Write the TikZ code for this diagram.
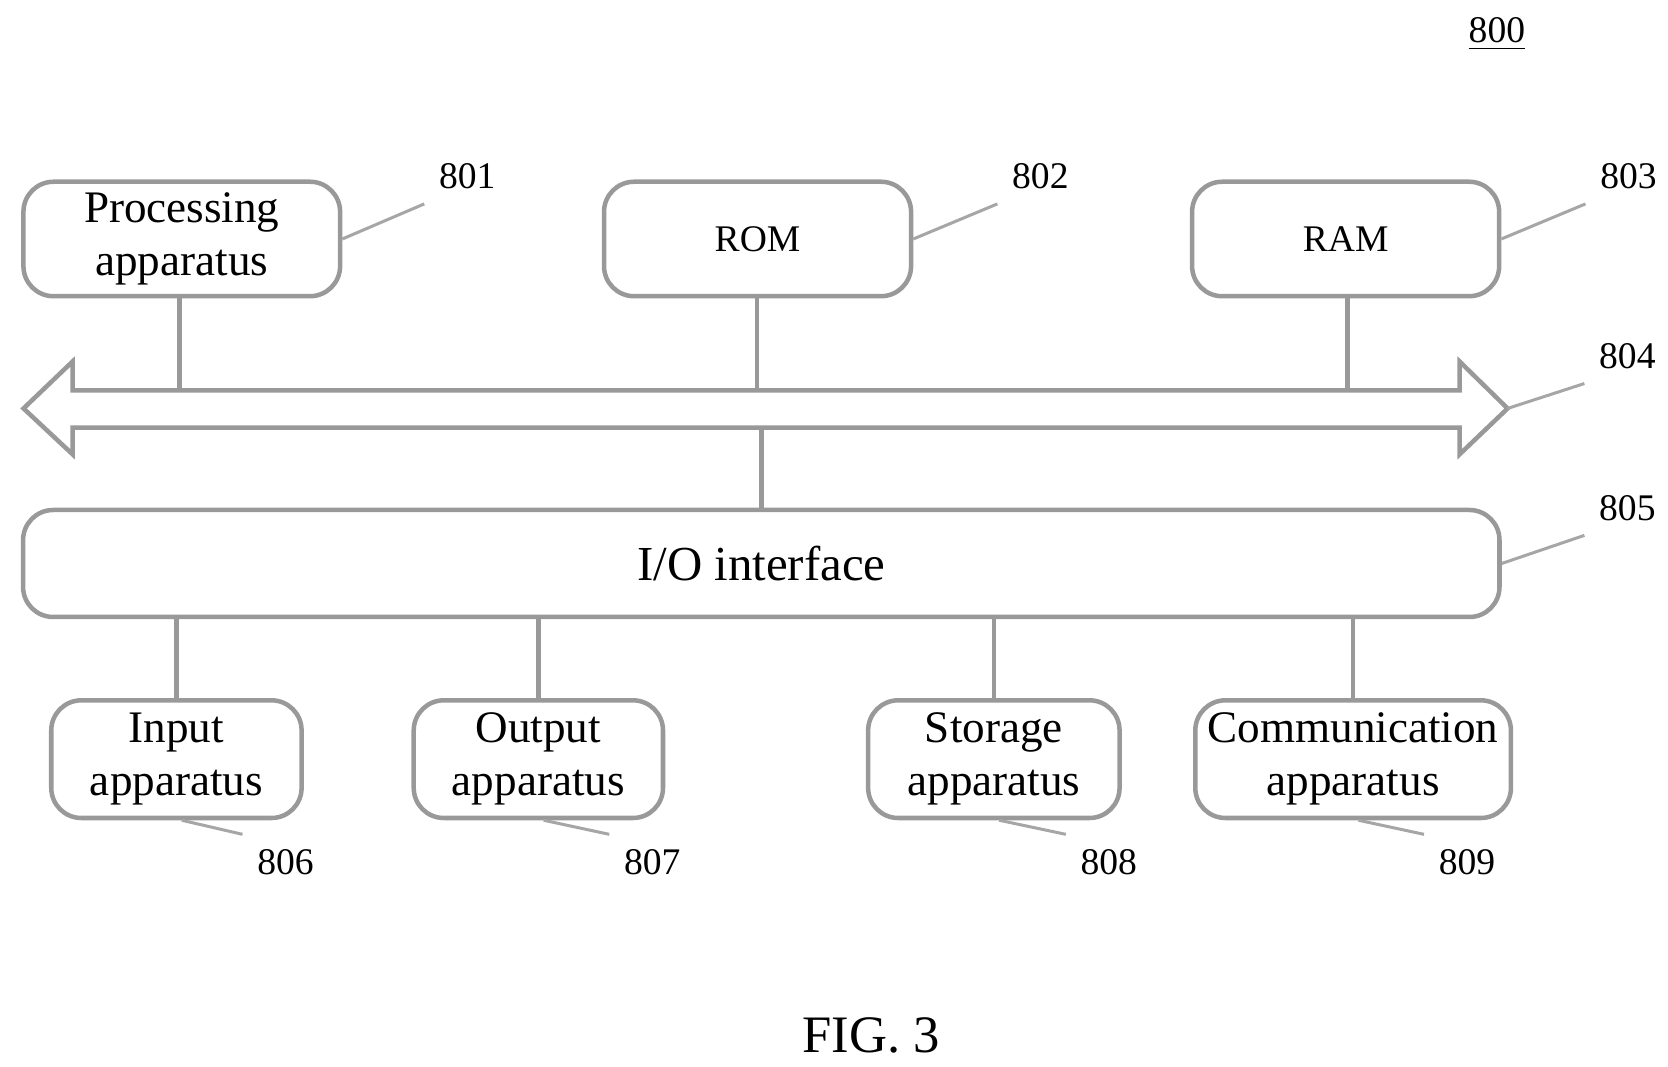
\documentclass[tikz,border=0pt]{standalone}
\usepackage{fontspec}
\setmainfont{Liberation Serif}
\begin{document}
\begin{tikzpicture}[x = 0.01 cm, y = -0.01 cm, line width = 1.2pt,
	box/.style = {draw = gray!80, rounded corners = 8pt, align = center, inner sep = 0pt,
		font = \fontsize{12}{14}\selectfont},
	wire/.style = {draw = gray!80},
	lead/.style = {draw = gray!70, line width = 0.8pt},
	num/.style = {font = \fontsize{10}{12}\selectfont}]

	% Frame
	
	\useasboundingbox (0, 0) rectangle (1560, 997);
	
	% Upper boxes
	
	\node [box, minimum width = 2.96cm, minimum height = 1.07cm] (proc) at (170, 223.5) {Processing\\apparatus};
	\node [box, minimum width = 2.87cm, minimum height = 1.07cm, font = \fontsize{10}{12}\selectfont] (rom) at (708.5, 223.5) {ROM};
	\node [box, minimum width = 2.87cm, minimum height = 1.07cm, font = \fontsize{10}{12}\selectfont] (ram) at (1258.5, 223.5) {RAM};
	
	% Bus
	
	\draw [wire] (22, 382) -- (68, 338) -- (68, 365) -- (1365, 365) -- (1365, 338) -- (1410, 382)
		-- (1365, 425) -- (1365, 400) -- (68, 400) -- (68, 425) -- cycle;
	\coordinate (bp) at (168, 365);
	\coordinate (br) at (708, 365);
	\coordinate (bm) at (1260, 365);
	\coordinate (bi) at (712, 400);
	\coordinate (btip) at (1410, 382);
	
	% I/O interface
	
	\node [box, minimum width = 13.8cm, minimum height = 1cm, font = \fontsize{13}{15}\selectfont] (io) at (712, 527) {I/O interface};
	
	% Lower boxes
	
	\node [box, minimum width = 2.34cm, minimum height = 1.1cm] (in) at (165, 710) {Input\\apparatus};
	\node [box, minimum width = 2.33cm, minimum height = 1.1cm] (out) at (503.5, 710) {Output\\apparatus};
	\node [box, minimum width = 2.35cm, minimum height = 1.1cm] (sto) at (929.5, 710) {Storage\\apparatus};
	\node [box, minimum width = 2.95cm, minimum height = 1.1cm] (com) at (1265.5, 710) {Communication\\apparatus};
	
	% Connectors
	
	\draw [wire] (proc.south -| bp) -- (bp);
	\draw [wire] (rom.south -| br) -- (br);
	\draw [wire] (ram.south -| bm) -- (bm);
	\draw [wire] (bi) -- (io.north -| bi);
	\foreach \b in {in, out, sto, com}
		\draw [wire] (io.south -| \b.north) -- (\b.north);
	
	% Reference numerals
	
	\node [num] (n800) at (1400, 32) {\underline{800}};
	\node [num] (n801) at (437, 165) {801};
	\node [num] (n802) at (973, 165) {802};
	\node [num] (n803) at (1523, 165) {803};
	\node [num] (n804) at (1522, 333) {804};
	\node [num] (n805) at (1522, 475) {805};
	\node [num] (n806) at (267, 806) {806};
	\node [num] (n807) at (610, 806) {807};
	\node [num] (n808) at (1037, 806) {808};
	\node [num] (n809) at (1372, 806) {809};
	
	\draw [lead] (proc.east) -- (n801.south west);
	\draw [lead] (rom.east) -- (n802.south west);
	\draw [lead] (ram.east) -- (n803.south west);
	\draw [lead] (btip) -- (n804.south west);
	\draw [lead] (io.east) -- (n805.south west);
	\draw [lead] (in.south) ++(5, 0) -- (n806.north west);
	\draw [lead] (out.south) ++(5, 0) -- (n807.north west);
	\draw [lead] (sto.south) ++(5, 0) -- (n808.north west);
	\draw [lead] (com.south) ++(5, 0) -- (n809.north west);
	
	% Figure label
	
	\node [font = \fontsize{14}{16}\selectfont] (fig) at (815, 968) {FIG. 3};
	
\end{tikzpicture}
\end{document}
